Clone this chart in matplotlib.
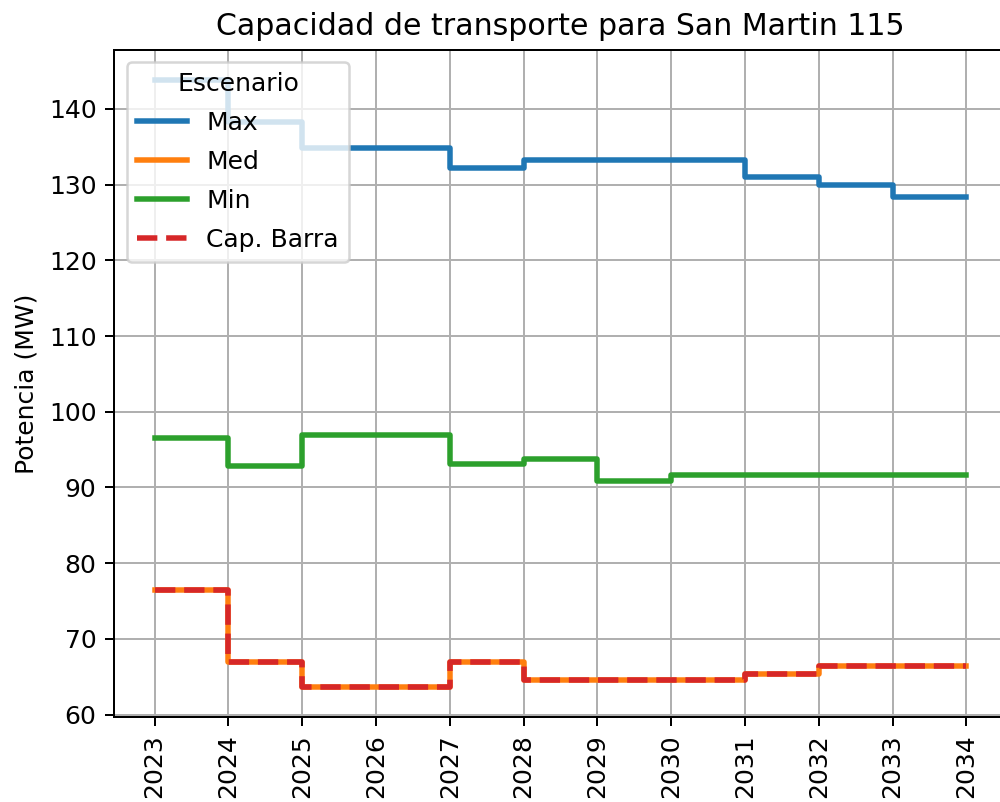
import matplotlib
matplotlib.use("Agg")
import matplotlib.pyplot as plt
from matplotlib.lines import Line2D
import matplotlib.offsetbox as moffsetbox

# Data (MW per year, step style)
years = [2023, 2024, 2025, 2026, 2027, 2028, 2029, 2030, 2031, 2032, 2033, 2034]
cap_max = [143.8, 138.3, 134.8, 134.8, 132.2, 133.2, 133.2, 133.2, 131.0, 130.0, 128.4, 128.4]
cap_med = [76.4, 66.9, 63.7, 63.7, 66.9, 64.6, 64.6, 64.6, 65.4, 66.4, 66.4, 66.4]
cap_min = [96.6, 92.8, 96.9, 96.9, 93.1, 93.8, 90.9, 91.6, 91.6, 91.6, 91.6, 91.6]
cap_barra = cap_med

title = "Capacidad de transporte para San Martin 115"
ylabel = "Potencia (MW)"

DPI = 180
fig = plt.figure(figsize=(1000 / DPI, 802 / DPI), dpi=DPI)
ax = fig.add_axes([0.114, 0.106, 0.893, 0.832])

ax.plot(years, cap_max, drawstyle="steps-post", color="#1f77b4", lw=2.2, label="Max")
ax.plot(years, cap_med, drawstyle="steps-post", color="#ff7f0e", lw=2.2, label="Med")
ax.plot(years, cap_min, drawstyle="steps-post", color="#2ca02c", lw=2.2, label="Min")
ax.plot(years, cap_barra, drawstyle="steps-post", color="#d62728", lw=2.2,
        ls="--", label="Cap. Barra")

ax.set_xticks(years)
ax.set_xticklabels([str(y) for y in years], rotation=90)
ax.set_ylabel(ylabel)
ax.set_title(title, fontsize=12)
ax.grid(True, color="#b0b0b0", lw=0.8)

# seaborn-like legend with a subtitle entry
handles, labels = ax.get_legend_handles_labels()
sub = Line2D([], [], visible=False)
leg = ax.legend([sub] + handles, ["Escenario"] + labels, loc="upper left",
                labelspacing=0.6)
hpackers = leg.findobj(moffsetbox.VPacker)[0].get_children()
for hpack in hpackers:
    draw_area, text_area = hpack.get_children()
    arts = draw_area.get_children()
    if not all(a.get_visible() for a in arts):
        draw_area.set_width(8.5)

fig.savefig("out.png", dpi=DPI)
